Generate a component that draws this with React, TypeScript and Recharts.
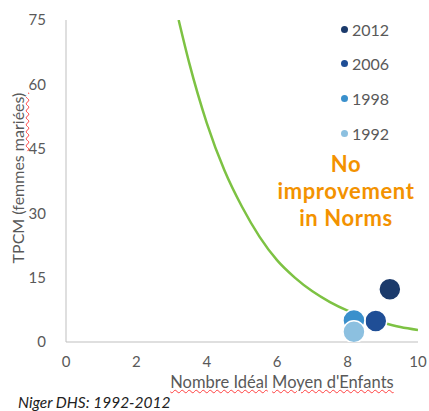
import React from "react";
import { ComposedChart, Line, Scatter, XAxis, YAxis } from "recharts";

const years = ["2012", "2006", "1998", "1992"];
const idealChildren = [9.2, 8.8, 8.18, 8.18];
const tpcm = [12.3, 4.9, 5.0, 2.4];
const yearColors = ["#1B3A6B", "#1F4E96", "#3A90CC", "#8CC0E0"];

const curveX = [3.2, 3.5, 4, 4.5, 5, 5.5, 6, 6.5, 7, 7.5, 8, 8.5, 9, 9.5, 10];
const curveY = [75, 65, 51, 40, 31.5, 24.5, 19, 15, 11.8, 9.3, 7.3, 5.7, 4.5, 3.5, 2.8];

const xTicks = [0, 2, 4, 6, 8, 10];
const yTicks = [0, 15, 30, 45, 60, 75];

const curveData = curveX.map((x, i) => ({ x, y: curveY[i] }));
const pointSeries = years.map((year, i) => ({
  year,
  color: yearColors[i],
  data: [{ x: idealChildren[i], y: tpcm[i] }],
}));

const FONT = "Lato, 'Open Sans', sans-serif";
const GRAY = "#595959";
const squiggle: React.CSSProperties = {
  textDecorationLine: "underline",
  textDecorationStyle: "wavy",
  textDecorationColor: "#FF4040",
  textDecorationThickness: "1px",
};

export default function App() {
  return (
    <div style={{ position: "absolute", left: 0, top: 0, width: 429, height: 411, fontFamily: FONT, overflow: "hidden" }}>
      <ComposedChart width={429} height={411} margin={{ top: 20, right: 11, bottom: 0, left: 0 }}>
        <XAxis
          type="number"
          dataKey="x"
          domain={[0, 10]}
          ticks={xTicks}
          tickLine={false}
          axisLine={{ stroke: "#BFBFBF", strokeWidth: 1 }}
          tick={{ fill: GRAY, fontSize: 15, fontFamily: FONT }}
          tickMargin={8}
          height={69}
          allowDataOverflow
        />
        <YAxis
          type="number"
          dataKey="y"
          domain={[0, 75]}
          ticks={yTicks}
          tickLine={false}
          axisLine={{ stroke: "#BFBFBF", strokeWidth: 1 }}
          tick={{ fill: GRAY, fontSize: 15, fontFamily: FONT }}
          tickMargin={14}
          width={66}
          allowDataOverflow
        />
        <Line
          data={curveData}
          dataKey="y"
          type="monotone"
          stroke="#7DC243"
          strokeWidth={2.5}
          dot={false}
          isAnimationActive={false}
        />
        {pointSeries.map((s) => (
          <Scatter
            key={s.year}
            name={s.year}
            data={s.data}
            dataKey="y"
            fill={s.color}
            isAnimationActive={false}
            shape={(p: any) => (
              <circle cx={p.cx} cy={p.cy} r={11} fill={s.color} stroke="#FFFFFF" strokeWidth={1.5} />
            )}
          />
        ))}
      </ComposedChart>

      {pointSeries.map((s, i) => (
        <div
          key={s.year}
          style={{
            position: "absolute",
            left: 341,
            top: 29 + i * 34.7 - 10,
            height: 20,
            display: "flex",
            alignItems: "center",
            fontSize: 16,
            color: GRAY,
          }}
        >
          <span
            style={{
              display: "inline-block",
              width: 7,
              height: 7,
              borderRadius: "50%",
              background: s.color,
              marginRight: 4,
            }}
          />
          {s.year}
        </div>
      ))}

      <div
        style={{
          position: "absolute",
          left: 246,
          top: 150,
          width: 200,
          textAlign: "center",
          color: "#F39200",
          fontWeight: 700,
          fontSize: 22,
          letterSpacing: 0.6,
          lineHeight: "27px",
        }}
      >
        No
        <br />
        improvement
        <br />
        in Norms
      </div>

      <div
        style={{
          position: "absolute",
          left: 18 - 110,
          top: 178 - 11,
          width: 220,
          height: 22,
          lineHeight: "22px",
          textAlign: "center",
          transform: "rotate(-90deg)",
          fontSize: 16,
          color: GRAY,
          whiteSpace: "nowrap",
        }}
      >
        TPCM (femmes <span style={squiggle}>mariées)</span>
      </div>

      <div
        style={{
          position: "absolute",
          left: 152,
          top: 372,
          width: 260,
          textAlign: "center",
          fontSize: 16.5,
          color: GRAY,
          whiteSpace: "nowrap",
        }}
      >
        <span style={squiggle}>Nombre Idéal</span> <span style={squiggle}>Moyen d'Enfants</span>
      </div>

      <div
        style={{
          position: "absolute",
          left: 18,
          top: 393,
          height: 18,
          lineHeight: "18px",
          fontSize: 15.5,
          fontStyle: "italic",
          color: "#222",
          whiteSpace: "nowrap",
        }}
      >
        Niger DHS: 1992-2012
      </div>
    </div>
  );
}
